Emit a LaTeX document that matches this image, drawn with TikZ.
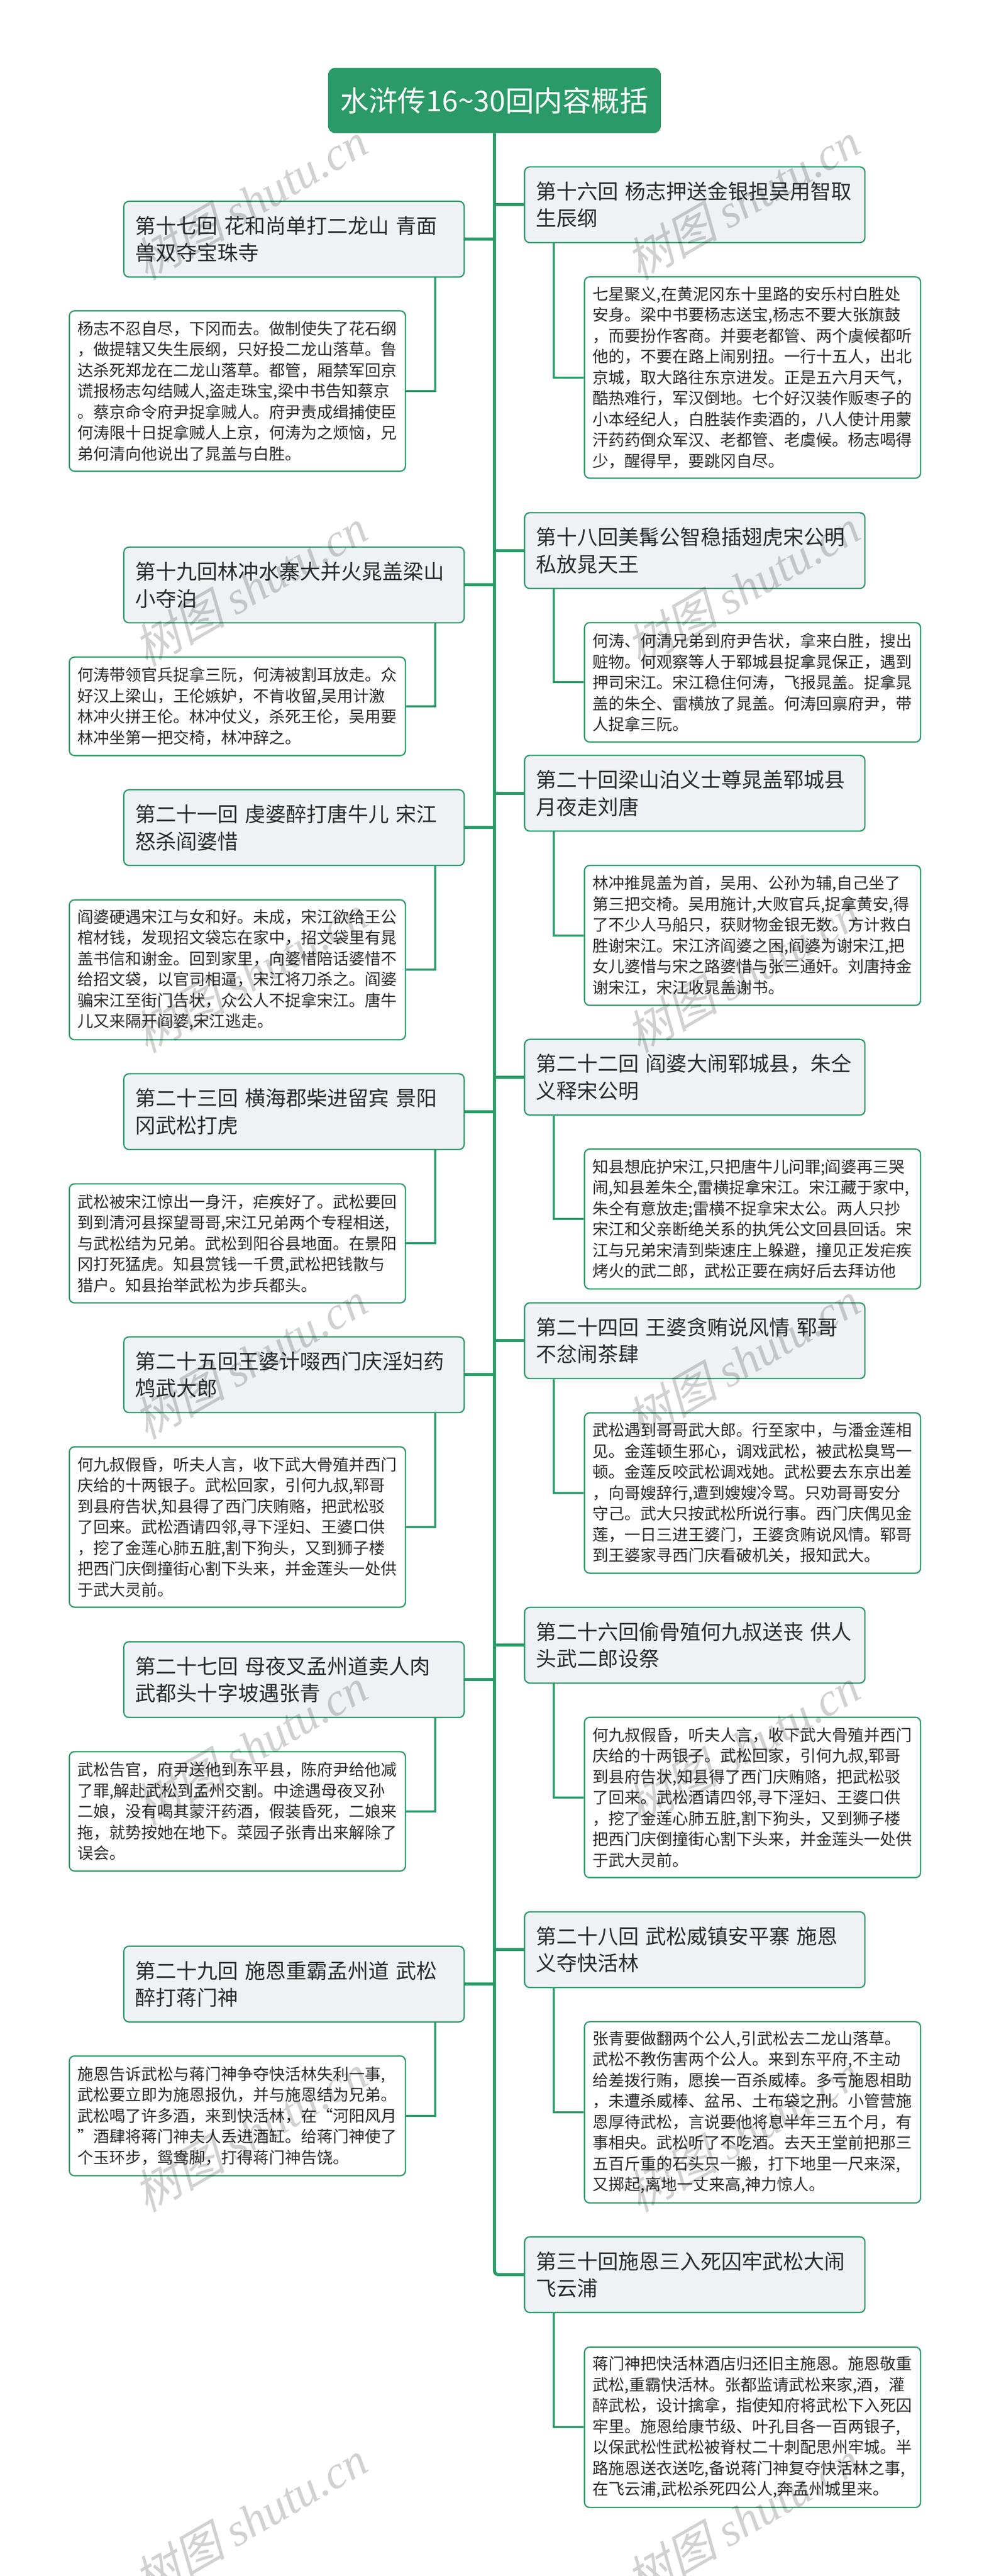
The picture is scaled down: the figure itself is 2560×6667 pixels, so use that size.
\documentclass[tikz,border=0pt]{standalone}
\usepackage{fontspec}
\setmainfont{Noto Sans CJK SC}
\newfontfamily\wmserif{Liberation Serif}
\newfontfamily\wmcjk[FakeSlant=0.25]{Noto Sans CJK SC}
\definecolor{mapgreen}{HTML}{2A9A68}
\definecolor{mapgrey}{HTML}{EEF2F5}
\definecolor{maptext}{HTML}{2B2B2B}
\begin{document}
\begin{tikzpicture}[x=0.3pt,y=-0.3pt]
	\tikzset{rootbox/.style={draw=mapgreen,fill=mapgreen,rounded corners=5.4pt,text=white,minimum width=258pt,minimum height=50.4pt,font=\fontsize{22.2}{28}\selectfont}}
	\tikzset{chapbox/.style={draw=mapgreen,line width=1pt,fill=mapgrey,rounded corners=4pt,text=maptext,text width=246.9pt,inner xsep=8.7pt,inner ysep=0pt,align=left,minimum height=58.8pt,font=\fontsize{16}{21}\selectfont}}
	\tikzset{notebox/.style={draw=mapgreen,line width=1pt,fill=white,rounded corners=4pt,text=maptext,text width=248.4pt,inner xsep=6.3pt,inner ysep=0pt,align=left,minimum height=#1*0.3pt,font=\fontsize{12.4}{16.2}\selectfont}}
	\tikzset{trunkline/.style={draw=mapgreen,line width=2.4pt,rounded corners=3pt}}
	\tikzset{notelink/.style={draw=mapgreen,line width=1.6pt}}
	\tikzset{wmark/.style={rotate=30,text=black,opacity=0.18,font=\fontsize{36}{36}\selectfont}}
	\useasboundingbox (0,0) rectangle (2560,6667);
	\node[rootbox] (root) at (1280,260) {水浒传16\textasciitilde30回内容概括};
	% right side
	\node[chapbox] (b16) at (1798.5,530) {第十六回 杨志押送金银担吴用智取\\生辰纲};
	\node[notebox=521] (t16) at (1948,977) {七星聚义,在黄泥冈东十里路的安乐村白胜处\\安身。梁中书要杨志送宝,杨志不要大张旗鼓\\，而要扮作客商。并要老都管、两个虞候都听\\他的，不要在路上闹别扭。一行十五人，出北\\京城，取大路往东京进发。正是五六月天气，\\酷热难行，军汉倒地。七个好汉装作贩枣子的\\小本经纪人，白胜装作卖酒的，八人使计用蒙\\汗药药倒众军汉、老都管、老虞候。杨志喝得\\少，醒得早，要跳冈自尽。};
	\node[chapbox] (b18) at (1798.5,1425) {第十八回美髯公智稳插翅虎宋公明\\私放晁天王};
	\node[notebox=309] (t18) at (1948,1766) {何涛、何清兄弟到府尹告状，拿来白胜，搜出\\赃物。何观察等人于郓城县捉拿晁保正，遇到\\押司宋江。宋江稳住何涛，飞报晁盖。捉拿晁\\盖的朱仝、雷横放了晁盖。何涛回禀府尹，带\\人捉拿三阮。};
	\node[chapbox] (b20) at (1798.5,2053) {第二十回梁山泊义士尊晁盖郓城县\\月夜走刘唐};
	\node[notebox=362] (t20) at (1948,2421) {林冲推晁盖为首，吴用、公孙为辅,自己坐了\\第三把交椅。吴用施计,大败官兵,捉拿黄安,得\\了不少人马船只，获财物金银无数。方计救白\\胜谢宋江。宋江济阎婆之困,阎婆为谢宋江,把\\女儿婆惜与宋之路婆惜与张三通奸。刘唐持金\\谢宋江，宋江收晁盖谢书。};
	\node[chapbox] (b22) at (1798.5,2788) {第二十二回 阎婆大闹郓城县，朱仝\\义释宋公明};
	\node[notebox=362] (t22) at (1948,3155) {知县想庇护宋江,只把唐牛儿问罪;阎婆再三哭\\闹,知县差朱仝,雷横捉拿宋江。宋江藏于家中,\\朱仝有意放走;雷横不捉拿宋太公。两人只抄\\宋江和父亲断绝关系的执凭公文回县回话。宋\\江与兄弟宋清到柴速庄上躲避，撞见正发疟疾\\烤火的武二郎，武松正要在病好后去拜访他};
	\node[chapbox] (b24) at (1798.5,3470) {第二十四回 王婆贪贿说风情 郓哥\\不忿闹茶肆};
	\node[notebox=415] (t24) at (1948,3864) {武松遇到哥哥武大郎。行至家中，与潘金莲相\\见。金莲顿生邪心，调戏武松，被武松臭骂一\\顿。金莲反咬武松调戏她。武松要去东京出差\\，向哥嫂辞行,遭到嫂嫂冷骂。只劝哥哥安分\\守己。武大只按武松所说行事。西门庆偶见金\\莲，一日三进王婆门，王婆贪贿说风情。郓哥\\到王婆家寻西门庆看破机关，报知武大。};
	\node[chapbox] (b26) at (1798.5,4258) {第二十六回偷骨殖何九叔送丧 供人\\头武二郎设祭};
	\node[notebox=415] (t26) at (1948,4652) {何九叔假昏，听夫人言，收下武大骨殖并西门\\庆给的十两银子。武松回家，引何九叔,郓哥\\到县府告状,知县得了西门庆贿赂，把武松驳\\了回来。武松酒请四邻,寻下淫妇、王婆口供\\，挖了金莲心肺五脏,割下狗头，又到狮子楼\\把西门庆倒撞街心割下头来，并金莲头一处供\\于武大灵前。};
	\node[chapbox] (b28) at (1798.5,5046) {第二十八回 武松威镇安平寨 施恩\\义夺快活林};
	\node[notebox=469] (t28) at (1948,5467) {张青要做翻两个公人,引武松去二龙山落草。\\武松不教伤害两个公人。来到东平府,不主动\\给差拨行贿，愿挨一百杀威棒。多亏施恩相助\\，未遭杀威棒、盆吊、土布袋之刑。小管营施\\恩厚待武松，言说要他将息半年三五个月，有\\事相央。武松听了不吃酒。去天王堂前把那三\\五百斤重的石头只一搬，打下地里一尺来深,\\又掷起,离地一丈来高,神力惊人。};
	\node[chapbox] (b30) at (1798.5,5887) {第三十回施恩三入死囚牢武松大闹\\飞云浦};
	\node[notebox=415] (t30) at (1948,6282) {蒋门神把快活林酒店归还旧主施恩。施恩敬重\\武松,重霸快活林。张都监请武松来家,酒，灌\\醉武松，设计擒拿，指使知府将武松下入死囚\\牢里。施恩给康节级、叶孔目各一百两银子,\\以保武松性武松被脊杖二十刺配思州牢城。半\\路施恩送衣送吃,备说蒋门神复夺快活林之事,\\在飞云浦,武松杀死四公人,奔孟州城里来。};
	% left side
	\node[chapbox] (b17) at (761,619) {第十七回 花和尚单打二龙山 青面\\兽双夺宝珠寺};
	\node[notebox=415] (t17) at (614.5,1012) {杨志不忍自尽，下冈而去。做制使失了花石纲\\，做提辖又失生辰纲，只好投二龙山落草。鲁\\达杀死郑龙在二龙山落草。都管，厢禁军回京\\谎报杨志勾结贼人,盗走珠宝,梁中书告知蔡京\\。蔡京命令府尹捉拿贼人。府尹责成缉捕使臣\\何涛限十日捉拿贼人上京，何涛为之烦恼，兄\\弟何清向他说出了晁盖与白胜。};
	\node[chapbox] (b19) at (761,1514) {第十九回林冲水寨大并火晁盖梁山\\小夺泊};
	\node[notebox=255] (t19) at (614.5,1828) {何涛带领官兵捉拿三阮，何涛被割耳放走。众\\好汉上梁山，王伦嫉妒，不肯收留,吴用计激\\林冲火拼王伦。林冲仗义，杀死王伦，吴用要\\林冲坐第一把交椅，林冲辞之。};
	\node[chapbox] (b21) at (761,2142) {第二十一回 虔婆醉打唐牛儿 宋江\\怒杀阎婆惜};
	\node[notebox=362] (t21) at (614.5,2510) {阎婆硬遇宋江与女和好。未成，宋江欲给王公\\棺材钱，发现招文袋忘在家中，招文袋里有晁\\盖书信和谢金。回到家里，向婆惜陪话婆惜不\\给招文袋，以官司相逼，宋江将刀杀之。阎婆\\骗宋江至街门告状，众公人不捉拿宋江。唐牛\\儿又来隔开阎婆,宋江逃走。};
	\node[chapbox] (b23) at (761,2877) {第二十三回 横海郡柴进留宾 景阳\\冈武松打虎};
	\node[notebox=308] (t23) at (614.5,3218) {武松被宋江惊出一身汗，疟疾好了。武松要回\\到到清河县探望哥哥,宋江兄弟两个专程相送,\\与武松结为兄弟。武松到阳谷县地面。在景阳\\冈打死猛虎。知县赏钱一千贯,武松把钱散与\\猎户。知县抬举武松为步兵都头。};
	\node[chapbox] (b25) at (761,3558) {第二十五回王婆计啜西门庆淫妇药\\鸩武大郎};
	\node[notebox=415] (t25) at (614.5,3952) {何九叔假昏，听夫人言，收下武大骨殖并西门\\庆给的十两银子。武松回家，引何九叔,郓哥\\到县府告状,知县得了西门庆贿赂，把武松驳\\了回来。武松酒请四邻,寻下淫妇、王婆口供\\，挖了金莲心肺五脏,割下狗头，又到狮子楼\\把西门庆倒撞街心割下头来，并金莲头一处供\\于武大灵前。};
	\node[chapbox] (b27) at (761,4347) {第二十七回 母夜叉孟州道卖人肉\\武都头十字坡遇张青};
	\node[notebox=309] (t27) at (614.5,4688) {武松告官，府尹送他到东平县，陈府尹给他减\\了罪,解赴武松到孟州交割。中途遇母夜叉孙\\二娘，没有喝其蒙汗药酒，假装昏死，二娘来\\拖，就势按她在地下。菜园子张青出来解除了\\误会。};
	\node[chapbox] (b29) at (761,5135) {第二十九回 施恩重霸孟州道 武松\\醉打蒋门神};
	\node[notebox=310] (t29) at (614.5,5476) {施恩告诉武松与蒋门神争夺快活林失利一事,\\武松要立即为施恩报仇，并与施恩结为兄弟。\\武松喝了许多酒，来到快活林，在“河阳风月\\”酒肆将蒋门神夫人丢进酒缸。给蒋门神使了\\个玉环步，鸳鸯脚，打得蒋门神告饶。};
	% connectors
	\draw[trunkline] (root.south) |- (b30.west);
	\foreach \r in {16,18,...,28} \draw[trunkline] (root.south |- b\r.west) -- (b\r.west);
	\foreach \l in {17,19,...,29} \draw[trunkline] (root.south |- b\l.east) -- (b\l.east);
	\foreach \r in {16,18,...,30} \draw[notelink] ([xshift=23.1pt]b\r.south west) |- (t\r.west);
	\foreach \l in {17,19,...,29} \draw[notelink] ([xshift=-23.1pt]b\l.south east) |- (t\l.east);
	% watermark
	\foreach \y in {520,1520,...,6520} {
		\node[wmark] (wl\y) at (647,\y) {{\wmcjk 树图} {\wmserif\itshape shutu.cn}};
		\node[wmark] (wr\y) at (1922,\y) {{\wmcjk 树图} {\wmserif\itshape shutu.cn}};
	}
\end{tikzpicture}
\end{document}
